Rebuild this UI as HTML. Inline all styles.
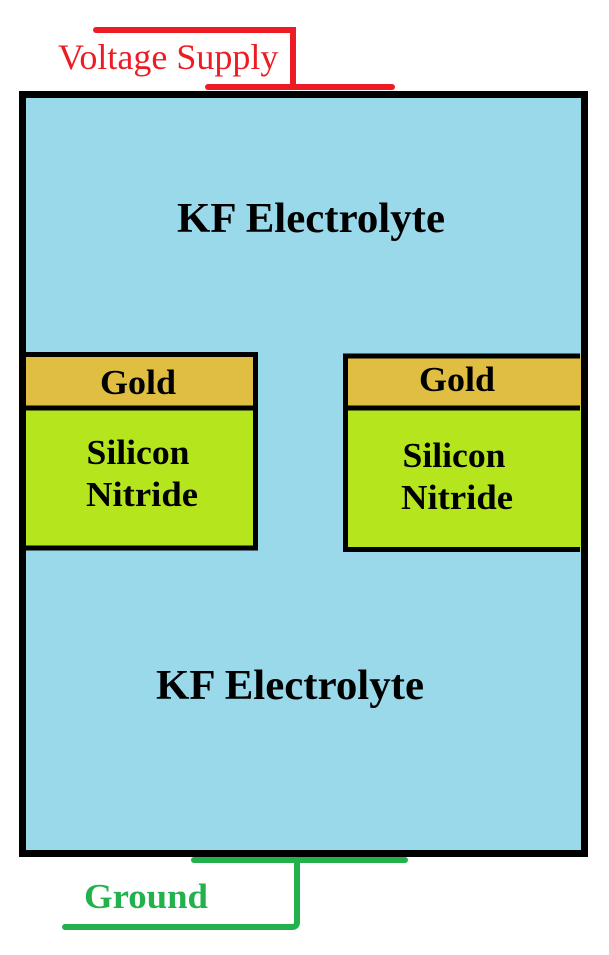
<!DOCTYPE html>
<html><head><meta charset="utf-8"><style>html,body{margin:0;padding:0;background:#fff}svg{display:block}</style></head>
<body>
<svg width="609" height="955" xmlns="http://www.w3.org/2000/svg" font-family="Liberation Serif, serif">
<rect x="0" y="0" width="609" height="955" fill="#fff"/>
<g stroke="#ed1c24" stroke-width="6" stroke-linecap="round" fill="none">
<path d="M96 30 H293 V86"/>
<path d="M208 87 H392"/>
</g>
<text x="58" y="69" font-size="36" fill="#ed1c24">Voltage Supply</text>
<rect x="22.5" y="94.5" width="562" height="759" fill="#99d9ea" stroke="#000" stroke-width="7"/>
<text x="311" y="232" font-size="42" font-weight="bold" text-anchor="middle" textLength="268" lengthAdjust="spacingAndGlyphs">KF Electrolyte</text>
<text x="290" y="699" font-size="42" font-weight="bold" text-anchor="middle" textLength="268" lengthAdjust="spacingAndGlyphs">KF Electrolyte</text>
<rect x="26" y="354" width="229" height="54" fill="#e0be42"/>
<rect x="26" y="408" width="229" height="140" fill="#b5e61d"/>
<path d="M26 354.5 H255.5 V548 H26 M26 408 H255" stroke="#000" stroke-width="5" fill="none"/>
<text x="138" y="394" font-size="35" font-weight="bold" text-anchor="middle" textLength="76" lengthAdjust="spacingAndGlyphs">Gold</text>
<text x="138" y="464" font-size="35" font-weight="bold" text-anchor="middle" textLength="103" lengthAdjust="spacingAndGlyphs">Silicon</text>
<text x="142" y="506" font-size="35" font-weight="bold" text-anchor="middle" textLength="112" lengthAdjust="spacingAndGlyphs">Nitride</text>
<rect x="345" y="355" width="236" height="53" fill="#e0be42"/>
<rect x="345" y="408" width="236" height="141" fill="#b5e61d"/>
<path d="M580 356 H345.5 V549.5 H580 M345 408 H580" stroke="#000" stroke-width="5" fill="none"/>
<text x="457" y="391" font-size="35" font-weight="bold" text-anchor="middle" textLength="76" lengthAdjust="spacingAndGlyphs">Gold</text>
<text x="454" y="467" font-size="35" font-weight="bold" text-anchor="middle" textLength="103" lengthAdjust="spacingAndGlyphs">Silicon</text>
<text x="457" y="509" font-size="35" font-weight="bold" text-anchor="middle" textLength="112" lengthAdjust="spacingAndGlyphs">Nitride</text>
<g stroke="#22b14c" stroke-width="6" stroke-linecap="round" fill="none">
<path d="M194 860 H405"/>
<path d="M297 862 V922 Q297 927 292 927 H65"/>
</g>
<text x="84" y="908" font-size="35" font-weight="bold" fill="#22b14c" textLength="124" lengthAdjust="spacingAndGlyphs">Ground</text>
</svg>
</body></html>
